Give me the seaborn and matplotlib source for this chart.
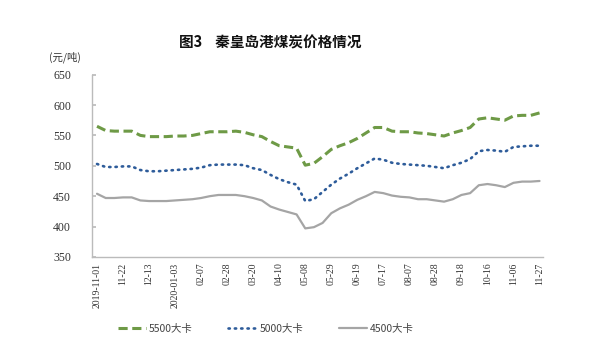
import matplotlib
matplotlib.use("Agg")
import matplotlib.pyplot as plt
import seaborn as sns
import pandas as pd

dates = ["2019-11-01", "11-08", "11-15", "11-22", "11-29", "12-06", "12-13", "12-20", "12-27",
         "2020-01-03", "01-10", "01-17", "02-07", "02-14", "02-21", "02-28", "03-06", "03-13",
         "03-20", "03-27", "04-03", "04-10", "04-17", "04-24", "05-08", "05-15", "05-22",
         "05-29", "06-05", "06-12", "06-19", "07-03", "07-10", "07-17", "07-24", "07-31",
         "08-07", "08-14", "08-21", "08-28", "09-04", "09-11", "09-18", "09-25", "10-09",
         "10-16", "10-23", "10-30", "11-06", "11-13", "11-20", "11-27"]

p5500 = [565, 558, 557, 557, 557, 550, 548, 548, 548, 549, 549, 550, 553, 556, 556, 556, 557, 555,
         551, 548, 540, 533, 531, 529, 501, 504, 515, 527, 533, 538, 545, 554, 563, 563, 557, 556,
         556, 554, 553, 551, 549, 554, 558, 563, 577, 579, 577, 575, 582, 583, 583, 587]
p5000 = [503, 498, 498, 499, 499, 493, 491, 491, 492, 493, 494, 495, 497, 501, 502, 502, 502, 501,
         496, 493, 485, 478, 473, 469, 442, 445, 457, 469, 479, 487, 496, 504, 512, 510, 505, 503,
         502, 501, 500, 498, 496, 501, 505, 511, 524, 526, 525, 523, 531, 532, 533, 533]
p4500 = [454, 447, 447, 448, 448, 443, 442, 442, 442, 443, 444, 445, 447, 450, 452, 452, 452, 450,
         447, 443, 433, 428, 424, 420, 397, 399, 406, 422, 430, 436, 444, 450, 457, 455, 451, 449,
         448, 445, 445, 443, 441, 445, 452, 455, 468, 470, 468, 465, 472, 474, 474, 475]

labels = ["5500大卡", "5000大卡", "4500大卡"]
tick_idx = list(range(0, 52, 3))

sns.set_theme(style="white")
plt.rcParams['font.family'] = ['Noto Sans CJK SC', 'DejaVu Sans']

df = pd.DataFrame({"idx": range(len(dates)), "d": dates, "a": p5500, "b": p5000, "c": p4500})

fig = plt.figure(figsize=(6, 3.52), dpi=100)
ax = fig.add_axes([0.153, 0.270, 0.752, 0.518])

sns.lineplot(data=df, x="idx", y="a", ax=ax, color="#6E9A46", lw=2.2, label=labels[0])
sns.lineplot(data=df, x="idx", y="b", ax=ax, color="#2E5C9A", lw=1.9, label=labels[1])
sns.lineplot(data=df, x="idx", y="c", ax=ax, color="#A5A5A5", lw=1.6, label=labels[2])
lines = ax.get_lines()
lines[0].set_dashes([3.0, 1.5])
lines[1].set_dashes([0.5, 1.9])
lines[1].set_dash_capstyle("round")

ax.set_ylim(350, 650)
ax.set_xlim(-0.6, 51.4)
ax.set_yticks([350, 400, 450, 500, 550, 600, 650])
ax.set_xticks(tick_idx)
ax.set_xticklabels([dates[i] for i in tick_idx], rotation=90, fontsize=7,
                   family="Liberation Serif", color="#333333")
for t in ax.get_yticklabels():
    t.set_family("Liberation Serif")
    t.set_fontsize(8.5)
    t.set_color("#333333")
ax.set_xlabel("")
ax.set_ylabel("")
for s in ["top", "right"]:
    ax.spines[s].set_visible(False)
for s in ["left", "bottom"]:
    ax.spines[s].set_color("#BBBBBB")
    ax.spines[s].set_linewidth(1.0)
ax.tick_params(axis="y", direction="in", length=3, color="#BBBBBB", pad=15, left=True)
ax.tick_params(axis="x", direction="in", length=0, pad=4)

fig.text(0.45, 0.878, "图3    秦皇岛港煤炭价格情况", ha="center", va="center",
         fontsize=10.5, fontweight="bold", color="#111111")
fig.text(0.082, 0.838, "(元/吨)", ha="left", va="center", fontsize=7.5, color="#333333")

ax.get_legend().remove()
fig.legend(handles=lines[:3], labels=labels, loc="center", bbox_to_anchor=(0.443, 0.066),
           ncol=3, frameon=False, fontsize=7.5, handlelength=2.7, handletextpad=0.3,
           columnspacing=3.4, labelcolor="#444444")

fig.savefig("out.png", dpi=100)
